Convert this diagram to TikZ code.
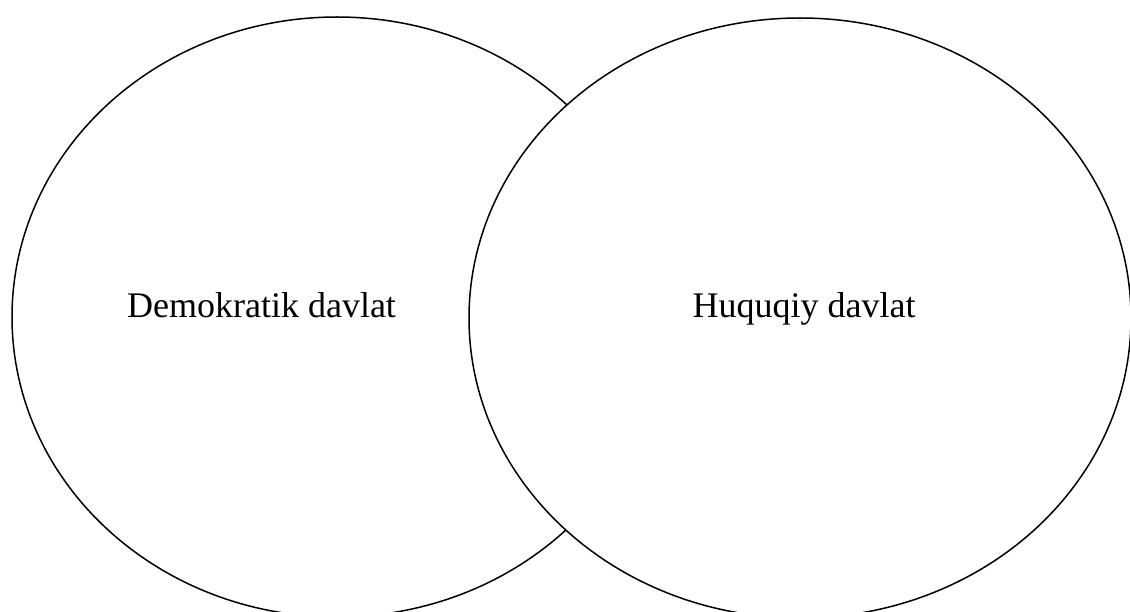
\documentclass[tikz,border=0pt]{standalone}
\usepackage{fontspec}
\setmainfont{Liberation Serif}
\tikzset{
  venn/.style={draw=black, line width=1.5pt, fill=white},
  lbl/.style={anchor=base, font=\fontsize{36}{40}\selectfont, inner sep=0pt}
}
\begin{document}
\begin{tikzpicture}[x=1pt,y=-1pt]
\useasboundingbox (0,0) rectangle (1130,612);
\fill[white] (0,0) rectangle (1130,612);
\draw[venn] (337,317) ellipse [x radius=325pt, y radius=300pt];
\draw[venn] (800,318) ellipse [x radius=331pt, y radius=300pt];
\node[lbl] (dem) at (261.5,318) {Demokratik davlat};
\node[lbl] (huq) at (804,318) {Huquqiy davlat};
\end{tikzpicture}
\end{document}
